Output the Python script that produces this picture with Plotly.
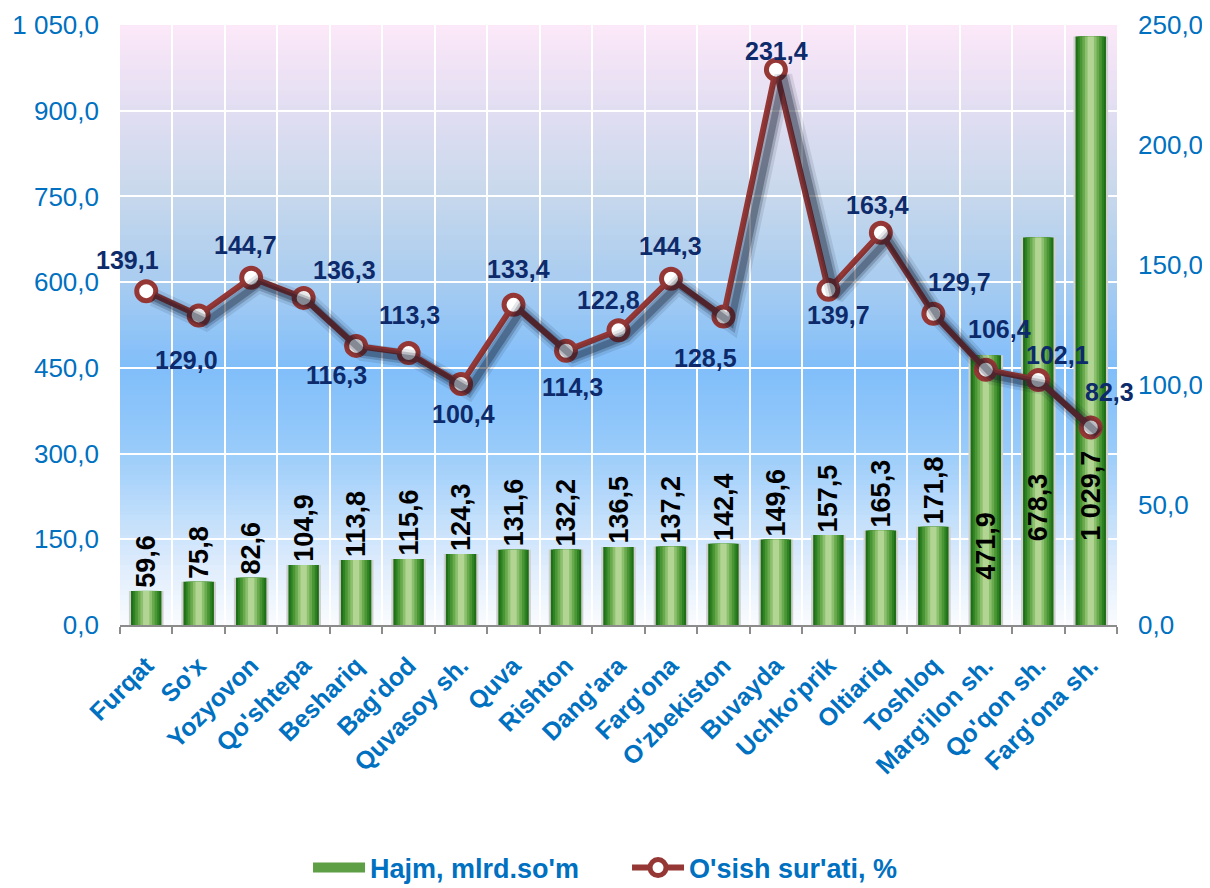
import plotly.graph_objects as go

categories = ["Furqat", "So'x", "Yozyovon", "Qo'shtepa", "Beshariq", "Bag'dod", "Quvasoy sh.",
              "Quva", "Rishton", "Dang'ara", "Farg'ona", "O'zbekiston", "Buvayda", "Uchko'prik",
              "Oltiariq", "Toshloq", "Marg'ilon sh.", "Qo'qon sh.", "Farg'ona sh."]
volume = [59.6, 75.8, 82.6, 104.9, 113.8, 115.6, 124.3, 131.6, 132.2, 136.5, 137.2, 142.4,
          149.6, 157.5, 165.3, 171.8, 471.9, 678.3, 1029.7]
growth = [139.1, 129.0, 144.7, 136.3, 116.3, 113.3, 100.4, 133.4, 114.3, 122.8, 144.3, 128.5,
          231.4, 139.7, 163.4, 129.7, 106.4, 102.1, 82.3]
left_ticks = [0, 150, 300, 450, 600, 750, 900, 1050]
right_ticks = [0, 50, 100, 150, 200, 250]
name_bar = "Hajm, mlrd.so'm"
name_line = "O'sish sur'ati, %"

# label offsets (pixels) for growth labels: (dx, dy down)
line_lbl_off = [(-19, -31), (-12, 45), (-6, -33), (41, -28), (-20, 29), (1, -38), (2, 30),
                (5, -36), (6, 36), (-10, -30), (0, -33), (-18, 41), (1, -19), (10, 25),
                (-3, -28), (26, -32), (14, -41), (19, -25), (19, -35)]
# bars whose label sits inside, with pixel offset of label bottom above base
inside_lbl = {16: 43, 17: 82, 18: 82}


def fmt(v):
    return f"{v:,.1f}".replace(",", " ").replace(".", ",")


BLUE = "#0070C0"
NAVY = "#0D2A6B"
RED = "#953735"
FONT = "Liberation Sans, Arial, sans-serif"

fig = go.Figure()

# gradient bars by overlaying narrowing layers
bar_layers = [(0.66, "#CFCFCF"), (0.58, "#1F6F16"), (0.50, "#2F8223"), (0.42, "#4A9634"),
              (0.32, "#6AAA4E"), (0.22, "#8DC06E"), (0.12, "#B2D594")]
for i, (w, c) in enumerate(bar_layers):
    fig.add_trace(go.Bar(x=categories, y=volume, width=w, marker=dict(color=c, line=dict(width=0)),
                         name=name_bar, legendgroup="bar", showlegend=False,
                         hoverinfo="skip" if i else None, yaxis="y"))

# legend-only entry for bars, drawn as a wide green strip
fig.add_trace(go.Scatter(x=[None], y=[None], mode="lines", name=name_bar, legendgroup="bar",
                         line=dict(color="#5E9E45", width=14), yaxis="y"))

# shadow for the line (offset via shifted overlay axes)
for wdt, alpha in [(18, 0.10), (12, 0.20), (7, 0.30)]:
    fig.add_trace(go.Scatter(x=list(range(len(categories))), y=growth, mode="lines",
                             line=dict(color=f"rgba(10,20,40,{alpha})", width=wdt),
                             xaxis="x2", yaxis="y3", showlegend=False, hoverinfo="skip"))

fig.add_trace(go.Scatter(x=categories, y=growth, mode="lines+markers", name=name_line,
                         line=dict(color=RED, width=6),
                         marker=dict(size=19, color="white", line=dict(color=RED, width=5)),
                         yaxis="y2"))

annotations = []
for i, (c, v) in enumerate(zip(categories, growth)):
    dx, dy = line_lbl_off[i]
    annotations.append(dict(x=c, y=v, xref="x", yref="y2", text=fmt(v), showarrow=False,
                            xshift=dx, yshift=-dy,
                            font=dict(family=FONT, size=25, color=NAVY, weight="bold")))
for i, (c, v) in enumerate(zip(categories, volume)):
    if i in inside_lbl:
        annotations.append(dict(x=c, y=0, xref="x", yref="y", text=fmt(v), showarrow=False,
                                textangle=-90, yanchor="bottom", yshift=inside_lbl[i],
                                font=dict(family=FONT, size=27, color="black", weight="bold")))
    else:
        annotations.append(dict(x=c, y=v, xref="x", yref="y", text=fmt(v), showarrow=False,
                                textangle=-90, yanchor="bottom", yshift=1,
                                font=dict(family=FONT, size=27, color="black", weight="bold")))

# background gradient bands
stops = [(0.0, (250, 252, 255)), (0.10, (222, 236, 252)), (0.30, (150, 202, 250)),
         (0.43, (128, 190, 250)), (0.57, (168, 204, 240)), (0.72, (200, 216, 236)),
         (0.86, (226, 222, 242)), (1.0, (252, 232, 248))]


def col_at(t):
    for (t0, c0), (t1, c1) in zip(stops[:-1], stops[1:]):
        if t0 <= t <= t1:
            f = (t - t0) / (t1 - t0)
            return "rgb(%d,%d,%d)" % tuple(round(a + (b - a) * f) for a, b in zip(c0, c1))
    return "rgb(%d,%d,%d)" % stops[-1][1]


N = 120
shapes = []
for k in range(N):
    y0 = k / N
    y1 = (k + 1) / N + 0.002
    shapes.append(dict(type="rect", xref="paper", yref="paper", x0=0, x1=1, y0=y0, y1=min(y1, 1),
                       fillcolor=col_at((k + 0.5) / N), line=dict(width=0), layer="below"))

n = len(categories)
fig.update_layout(
    width=1202, height=880,
    margin=dict(l=112, r=93, t=17, b=263, autoexpand=False),
    paper_bgcolor="white", plot_bgcolor="rgba(0,0,0,0)",
    barmode="overlay", separators=", ",
    font=dict(family=FONT, color=BLUE),
    shapes=shapes, annotations=annotations,
    showlegend=True,
    legend=dict(orientation="h", xref="container", yref="container",
                x=0.515, xanchor="center", y=1 - 860 / 880, yanchor="middle",
                font=dict(family=FONT, size=27, color=BLUE, weight="bold"),
                itemwidth=52, entrywidth=252, traceorder="normal", bgcolor="rgba(0,0,0,0)"),
    xaxis=dict(type="category", range=[-0.5, n - 0.5], tickangle=-45, tickson="boundaries",
               ticks="outside", ticklen=7, tickcolor="#8C8C8C", tickwidth=2,
               showline=True, linecolor="#8C8C8C", linewidth=2, automargin=False,
               showgrid=True, gridcolor="white", gridwidth=2, ticklabelstandoff=14,
               tickfont=dict(family=FONT, size=25, color=BLUE, weight="bold")),
    xaxis2=dict(overlaying="x", range=[-0.5 - 0.14, n - 0.5 - 0.14], visible=False,
                showgrid=False, automargin=False),
    yaxis=dict(range=[0, 1050], tickvals=left_ticks, tickformat=",.1f", showgrid=True,
               gridcolor="white", gridwidth=2, zeroline=False, showline=False, ticks="",
               automargin=False, ticklabelstandoff=20,
               tickfont=dict(family=FONT, size=26, color=BLUE)),
    yaxis2=dict(range=[0, 250], tickvals=right_ticks, tickformat=",.1f", overlaying="y",
                side="right", showgrid=False, zeroline=False, showline=False,
                automargin=False, ticklabelstandoff=20,
                tickfont=dict(family=FONT, size=26, color=BLUE)),
    yaxis3=dict(range=[0 + 2.6, 250 + 2.6], overlaying="y", visible=False, showgrid=False,
                automargin=False),
)

fig.write_html("out.html")
